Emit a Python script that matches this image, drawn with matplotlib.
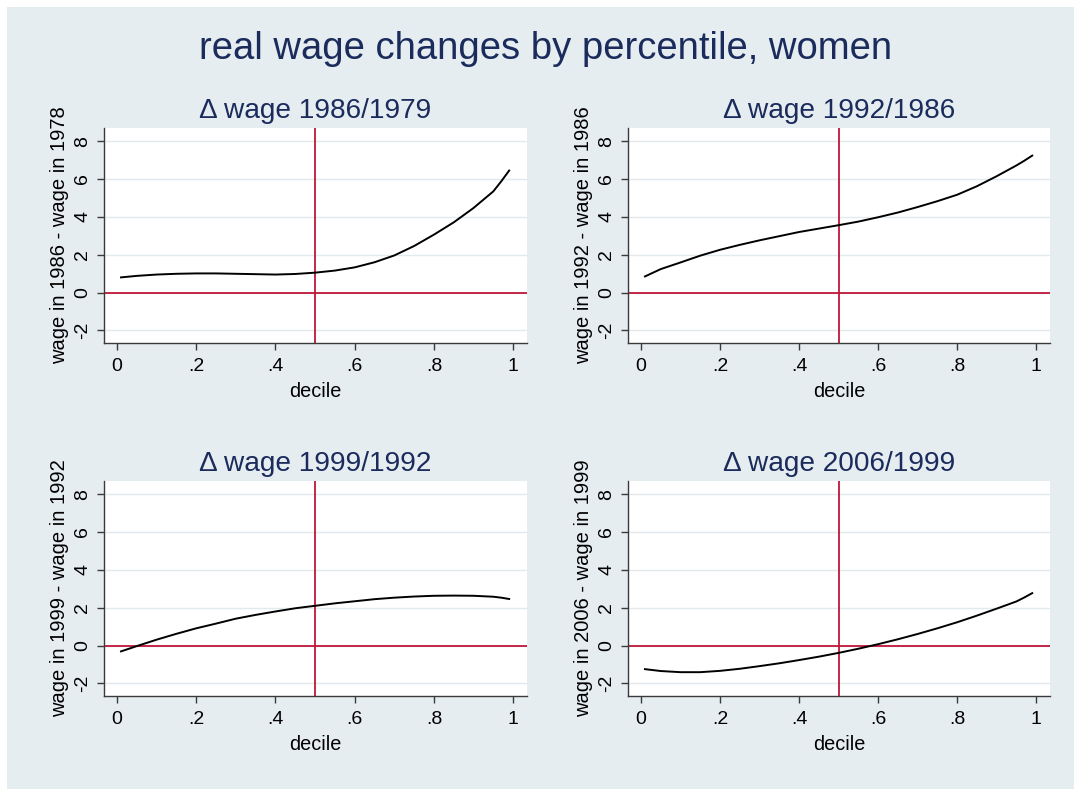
import numpy as np
import matplotlib
matplotlib.use("Agg")
import matplotlib.pyplot as plt
from matplotlib.patches import Rectangle

plt.rcParams['font.family'] = ['Liberation Sans', 'DejaVu Sans']

# percentile grid of the smoothed curves
pct = [0.01, 0.05, 0.10, 0.15, 0.20, 0.25, 0.30, 0.35, 0.40, 0.45, 0.50,
       0.55, 0.60, 0.65, 0.70, 0.75, 0.80, 0.85, 0.90, 0.95, 0.97, 0.99]

# wage changes
d_1986_1979 = [0.80, 0.88, 0.95, 0.99, 1.01, 1.01, 0.99, 0.97, 0.95, 0.98, 1.05,
               1.16, 1.33, 1.60, 1.96, 2.46, 3.06, 3.71, 4.47, 5.35, 5.88, 6.45]
d_1992_1986 = [0.85, 1.24, 1.59, 1.95, 2.26, 2.52, 2.76, 2.98, 3.20, 3.38, 3.56,
               3.75, 3.98, 4.23, 4.52, 4.83, 5.17, 5.62, 6.15, 6.72, 6.97, 7.24]
d_1999_1992 = [-0.31, -0.03, 0.31, 0.62, 0.91, 1.16, 1.42, 1.62, 1.80, 1.97, 2.10,
               2.23, 2.34, 2.45, 2.53, 2.59, 2.63, 2.64, 2.63, 2.58, 2.53, 2.46]
d_2006_1999 = [-1.25, -1.35, -1.41, -1.41, -1.34, -1.23, -1.09, -0.94, -0.77, -0.59, -0.39,
               -0.17, 0.07, 0.33, 0.61, 0.91, 1.23, 1.58, 1.95, 2.33, 2.54, 2.77]

titles = ["\u0394 wage 1986/1979", "\u0394 wage 1992/1986",
          "\u0394 wage 1999/1992", "\u0394 wage 2006/1999"]
ylabels = ["wage in 1986 - wage in 1978", "wage in 1992 - wage in 1986",
           "wage in 1999 - wage in 1992", "wage in 2006 - wage in 1999"]
series = [d_1986_1979, d_1992_1986, d_1999_1992, d_2006_1999]

xticks = [0, 0.2, 0.4, 0.6, 0.8, 1.0]
xticklabels = ["0", ".2", ".4", ".6", ".8", "1"]
yticks = [-2, 0, 2, 4, 6, 8]

BG = "#e6edf1"
NAVY = "#1a2b5c"
RED = "#c0163a"
AXC = "#3a3a3a"

W, H = 1074, 789
fig = plt.figure(figsize=(W / 100, H / 100), dpi=100)
fig.patch.set_facecolor("white")
fig.add_artist(Rectangle((7 / W, 0), 1 - 7 / W, 1 - 7 / H, transform=fig.transFigure,
                         facecolor=BG, edgecolor="none", zorder=-10))

fig.text(546 / W, 1 - 59 / H, "real wage changes by percentile, women",
         ha="center", va="baseline", fontsize=27.5, color=NAVY)

# axes boxes in pixels: left, top, right, bottom
boxes = [(104, 128, 527, 343), (628, 128, 1050, 343),
         (104, 481, 527, 696), (628, 481, 1050, 696)]

for box, ys, title, ylab in zip(boxes, series, titles, ylabels):
    l, t, r, b = box
    ax = fig.add_axes([l / W, 1 - b / H, (r - l) / W, (b - t) / H])
    ax.set_facecolor("white")
    ax.set_xlim(-0.033, 1.035)
    ax.set_ylim(-2.67, 8.70)
    for yv in yticks:
        ax.axhline(yv, color="#e3eaee", lw=1.0, zorder=0)
    ax.plot(pct, ys, color="black", lw=1.4, zorder=3)
    ax.axhline(0, color=RED, lw=1.3, zorder=2)
    ax.axvline(0.5, color=RED, lw=1.3, zorder=2)
    for s in ["top", "right"]:
        ax.spines[s].set_visible(False)
    for s in ["left", "bottom"]:
        ax.spines[s].set_color(AXC)
        ax.spines[s].set_linewidth(1.0)
    ax.set_xticks(xticks)
    ax.set_xticklabels(xticklabels)
    ax.set_yticks(yticks)
    ax.set_yticklabels([str(v) for v in yticks], rotation=90, va="center")
    ax.tick_params(length=5, width=1.0, color=AXC, labelsize=14, labelcolor="black")
    ax.tick_params(axis="x", pad=6)
    ax.tick_params(axis="y", pad=4)
    ax.set_xlabel("decile", fontsize=14.3, labelpad=5)
    ax.set_ylabel(ylab, fontsize=14.5, labelpad=4)
    ax.set_title(title, fontsize=20.2, color=NAVY, pad=7)

fig.savefig("out.png", dpi=100, facecolor=fig.get_facecolor())
